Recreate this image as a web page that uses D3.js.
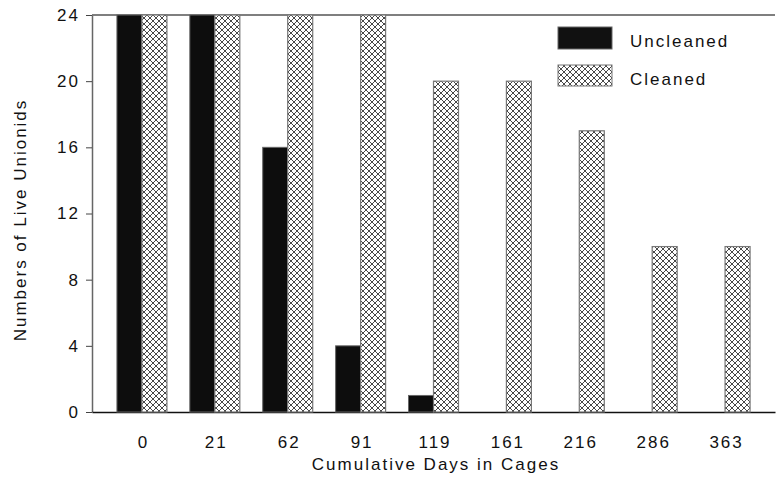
<!DOCTYPE html>
<html><head><meta charset="utf-8">
<script src="https://cdn.jsdelivr.net/npm/d3@7"></script>
<style>body{margin:0;background:#fff}svg{display:block}text{font-family:"Liberation Sans",Arial,sans-serif;fill:#111}</style>
</head><body>
<svg id="c" width="778" height="483"></svg>
<script>
const categories = ["0","21","62","91","119","161","216","286","363"];
const uncleaned = [24,24,16,4,1,0,0,0,0];
const cleaned = [24,24,24,24,20,20,17,10,10];
const yTicks = [0,4,8,12,16,20,24];
const seriesNames = ["Uncleaned","Cleaned"];

const FS = 17, LS = 2;
const svg = d3.select("#c");
const L=92, R=775, T=15, B=412;
const defs = svg.append("defs");
const pat = defs.append("pattern").attr("id","hatch").attr("patternUnits","userSpaceOnUse")
  .attr("width",6).attr("height",6);
pat.append("rect").attr("width",6).attr("height",6).attr("fill","#fff");
pat.append("path").attr("d","M0,0L6,6M6,0L0,6M-1,5L1,7M5,-1L7,1M-1,1L1,-1M5,7L7,5")
  .attr("stroke","#333").attr("stroke-width",0.9);

const x = d3.scalePoint().domain(categories).range([L,R]).padding(0.685);
const y = d3.scaleLinear().domain([0,24]).range([B,T]);
const bw = 25;

// frame
svg.append("line").attr("x1",L).attr("x2",R).attr("y1",T).attr("y2",T).attr("stroke","#555").attr("stroke-width",1.5);

const ya = svg.append("g").attr("transform",`translate(${L},0)`)
  .call(d3.axisLeft(y).tickValues(yTicks).tickSize(6).tickPadding(8).tickSizeOuter(0));
ya.select(".domain").attr("stroke","#666").attr("stroke-width",1.5);
ya.selectAll(".tick line").attr("stroke","#444");
ya.selectAll("text").attr("font-size",FS).attr("letter-spacing",LS).attr("dx",LS).style("fill","#111");

const xa = svg.append("g").attr("transform",`translate(0,${B})`)
  .call(d3.axisBottom(x).tickSize(0).tickPadding(24).tickSizeOuter(0));
xa.select(".domain").attr("stroke","#111").attr("stroke-width",1.5);
xa.selectAll("text").attr("font-size",FS).attr("letter-spacing",LS).attr("dx",LS/2).style("fill","#111");

svg.append("g").selectAll("rect").data(categories.filter((c,i)=>uncleaned[i]>0)).join("rect")
  .attr("x",c=>x(c)-bw).attr("width",bw)
  .attr("y",c=>y(uncleaned[categories.indexOf(c)]))
  .attr("height",c=>B-y(uncleaned[categories.indexOf(c)]))
  .attr("fill","#0d0d0d").attr("stroke","#666").attr("stroke-width",1);

svg.append("g").selectAll("rect").data(categories).join("rect")
  .attr("x",c=>x(c)).attr("width",bw)
  .attr("y",(c,i)=>y(cleaned[i]))
  .attr("height",(c,i)=>B-y(cleaned[i]))
  .attr("fill","url(#hatch)").attr("stroke","#777").attr("stroke-width",1.2);

// legend
const lg = svg.append("g");
lg.append("rect").attr("x",558).attr("y",27).attr("width",54).attr("height",22).attr("fill","#111").attr("stroke","#666");
lg.append("rect").attr("x",558).attr("y",65).attr("width",54).attr("height",21).attr("fill","url(#hatch)").attr("stroke","#777");
lg.append("text").attr("x",630).attr("y",47).attr("font-size",FS).attr("letter-spacing",LS).text(seriesNames[0]);
lg.append("text").attr("x",630).attr("y",85).attr("font-size",FS).attr("letter-spacing",LS).text(seriesNames[1]);

svg.append("text").attr("transform","translate(26,220) rotate(-90)").attr("text-anchor","middle")
  .attr("font-size",FS).attr("letter-spacing",LS).text("Numbers of Live Unionids");
svg.append("text").attr("x",436).attr("y",470).attr("text-anchor","middle")
  .attr("font-size",FS).attr("letter-spacing",LS).text("Cumulative Days in Cages");
</script>
</body></html>
